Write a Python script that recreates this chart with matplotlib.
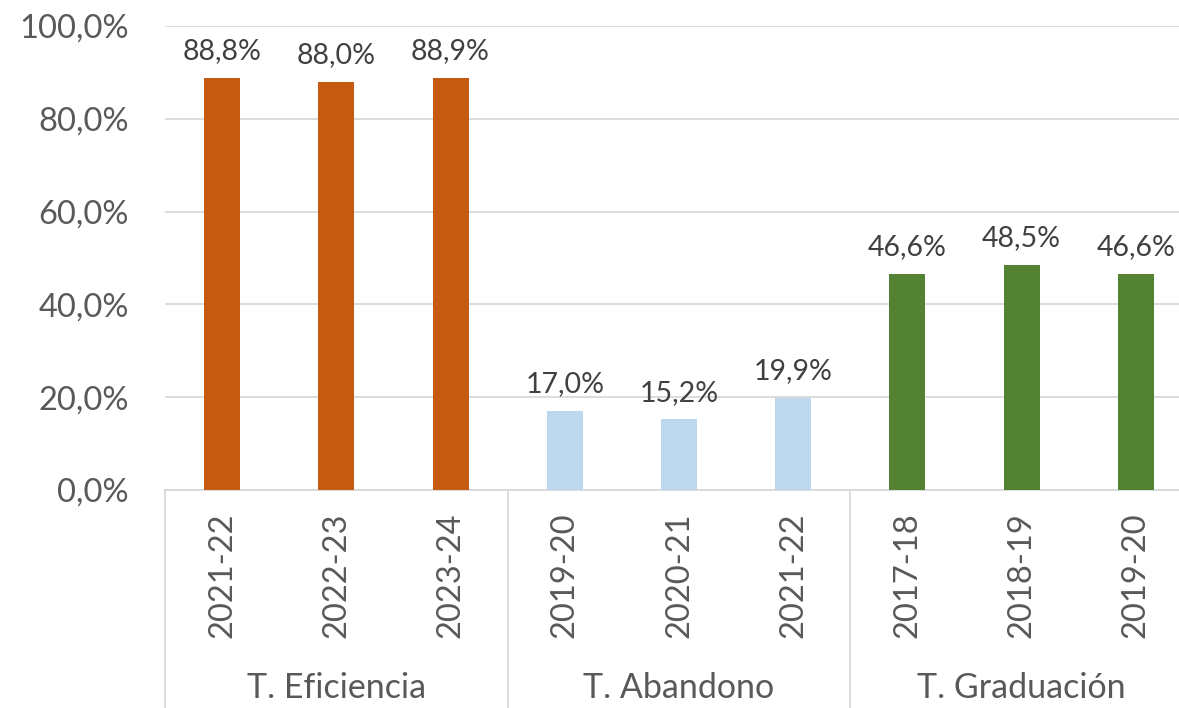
import matplotlib
matplotlib.use("Agg")
import matplotlib.pyplot as plt
from matplotlib.transforms import blended_transform_factory

plt.rcParams['font.family'] = ['Lato', 'DejaVu Sans']

groups = ["T. Eficiencia", "T. Abandono", "T. Graduación"]
categories = ["2021-22", "2022-23", "2023-24",
              "2019-20", "2020-21", "2021-22",
              "2017-18", "2018-19", "2019-20"]
eficiencia = [88.8, 88.0, 88.9]
abandono = [17.0, 15.2, 19.9]
graduacion = [46.6, 48.5, 46.6]
yticks = [0, 20, 40, 60, 80, 100]

colors = ["#C55A11", "#BDD7EE", "#548235"]
text_color = "#595959"
grid_color = "#D9D9D9"

W, H = 1179, 708
fig = plt.figure(figsize=(W / 100, H / 100), dpi=100)
left = 165 / W
bottom = 218 / H
width = (1193 - 165) / W
height = (682 - 218) / H
ax = fig.add_axes([left, bottom, width, height])

series = [eficiencia, abandono, graduacion]
x = 0
for g, vals in enumerate(series):
    xs = list(range(x, x + len(vals)))
    bars = ax.bar(xs, vals, width=0.315, color=colors[g], zorder=3)
    ax.bar_label(bars, labels=[f"{v:.1f}%".replace('.', ',') for v in vals],
                 padding=10, fontsize=20.5, color="#404040")
    x += len(vals)

ax.set_xlim(-0.5, len(categories) - 0.5)
ax.set_ylim(0, 100)
ax.set_yticks(yticks)
ax.set_yticklabels([f"{t:.1f}%".replace('.', ',') for t in yticks])
ax.tick_params(axis='y', length=0, pad=26, labelsize=23.5, labelcolor=text_color)
ax.set_xticks(range(len(categories)))
ax.set_xticklabels(categories, rotation=90)
ax.tick_params(axis='x', length=0, pad=16, labelsize=23.5, labelcolor=text_color)
for lbl in ax.get_xticklabels():
    lbl.set_verticalalignment('top')

ax.grid(axis='y', color=grid_color, linewidth=1.3, zorder=0)
for s in ['top', 'right', 'left']:
    ax.spines[s].set_visible(False)
ax.spines['bottom'].set_color(grid_color)
ax.spines['bottom'].set_linewidth(1.3)

trans = blended_transform_factory(ax.transData, ax.transAxes)
bounds = [-0.5, 2.5, 5.5, 8.5]
for b in bounds:
    ax.plot([b, b], [0, -0.5], transform=trans, color=grid_color,
            linewidth=1.3, clip_on=False)
start = 0
for g, vals in enumerate(series):
    center = start + (len(vals) - 1) / 2
    ax.text(center, -0.427, groups[g], transform=trans, ha='center',
            va='center', fontsize=24.5, color=text_color)
    start += len(vals)

fig.savefig("out.png", dpi=100)
